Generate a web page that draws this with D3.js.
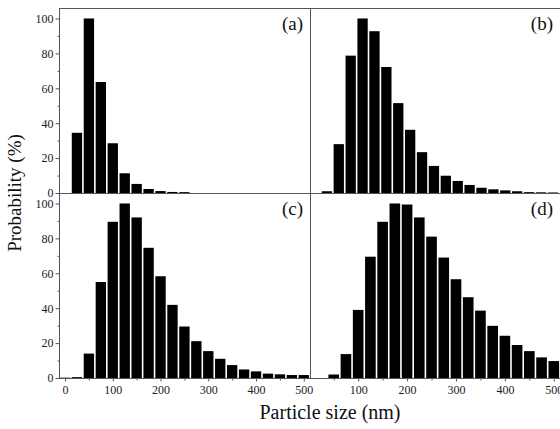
<!DOCTYPE html>
<html>
<head>
<meta charset="utf-8">
<script src="https://cdn.jsdelivr.net/npm/d3@7"></script>
<style>
  html, body { margin: 0; padding: 0; background: #fff; }
  svg { display: block; }
</style>
</head>
<body>
<div id="chart"></div>
<script>
// bins of the particle size histograms (nm, bin centres)
let bins = d3.range(0, 501, 25);

// probability (%) per bin
let valuesA = [0, 34.5, 100, 63.6, 28.5, 11.3, 5.2, 2.3, 1.1, 0.6, 0.5, 0, 0, 0, 0, 0, 0, 0, 0, 0, 0];
let valuesB = [0, 1, 28, 78.7, 100, 92.7, 72.2, 51.5, 36.2, 23.4, 15.5, 9.9, 6.9, 4.6, 3.0, 2.1, 1.5, 1.0, 0.5, 0.4, 0.3];
let valuesC = [0.2, 0.5, 14, 55, 89.5, 100, 92, 74.6, 58.3, 41.9, 29.5, 21.1, 15.4, 11, 7.4, 4.9, 3.8, 2.5, 2.1, 1.7, 1.7];
let valuesD = [0, 0, 2, 13.7, 39, 69.5, 89.5, 100, 99.4, 92, 81, 69, 56.6, 46.3, 38.6, 29.9, 24.2, 18.9, 15.4, 11.8, 9.7];

let yTicks = [0, 20, 40, 60, 80, 100];
let yMinor = [10, 30, 50, 70, 90];
let xTicks = [0, 100, 200, 300, 400, 500];
let xMinor = [50, 150, 250, 350, 450];

let binWidth = 25;
let serif = "'Liberation Serif', 'Times New Roman', Tinos, 'DejaVu Serif', serif";

let svg = d3.select('#chart').append('svg')
    .attr('width', 560)
    .attr('height', 429)
    .style('font-family', serif);

//Configuración de cada panel
let panels = [
    {id: 'a', values: valuesA, left: 59, right: 310, top: 8, bottom: 193, dom: [-12.6, 513], yAxis: true, xAxis: false},
    {id: 'b', values: valuesB, left: 310, right: 560, top: 8, bottom: 193, dom: [-10.5, 515], yAxis: false, xAxis: false},
    {id: 'c', values: valuesC, left: 59, right: 310, top: 193, bottom: 378, dom: [-12.6, 513], yAxis: true, xAxis: true, zeroLabel: true},
    {id: 'd', values: valuesD, left: 310, right: 560, top: 193, bottom: 378, dom: [1.5, 512.7], yAxis: false, xAxis: true, zeroLabel: false}
];

panels.forEach(drawPanel);

function styleTicks(ax) {
    ax.selectAll('.domain').remove();
    ax.selectAll('.tick line').attr('stroke', '#555');
    ax.selectAll('.tick text')
        .style('font-family', serif)
        .style('font-size', '12px')
        .attr('fill', '#1a1a28');
}

function drawPanel(p) {
    let x = d3.scaleLinear().domain(p.dom).range([p.left, p.right]);
    let y = d3.scaleLinear().domain([0, 106]).range([p.bottom, p.top]);

    let g = svg.append('g').attr('class', 'panel panel-' + p.id);

    g.append('clipPath').attr('id', 'clip-' + p.id)
        .append('rect')
        .attr('x', p.left).attr('y', p.top)
        .attr('width', p.right - p.left).attr('height', p.bottom - p.top);

    let data = bins.map(function(b, i) { return {bin: b, v: p.values[i]}; })
        .filter(function(d) { return d.v > 0; });

    //Barras
    g.append('g')
        .attr('clip-path', 'url(#clip-' + p.id + ')')
        .selectAll('rect')
        .data(data)
        .enter()
        .append('rect')
        .attr('x', function(d) { return x(d.bin - binWidth / 2) + 0.8; })
        .attr('width', function(d) { return x(d.bin + binWidth / 2) - x(d.bin - binWidth / 2) - 1.6; })
        .attr('y', function(d) { return y(d.v); })
        .attr('height', function(d) { return Math.max(0.8, y(0) - y(d.v)); })
        .attr('fill', '#000');

    //Marco
    g.append('rect')
        .attr('x', p.left + 0.5).attr('y', p.top + 0.5)
        .attr('width', p.right - p.left).attr('height', p.bottom - p.top)
        .attr('fill', 'none')
        .attr('stroke', '#555')
        .attr('stroke-width', 1);

    if (p.yAxis) {
        let ax = g.append('g').attr('transform', 'translate(' + (p.left + 0.5) + ',0)');
        ax.call(d3.axisLeft(y).tickValues(yTicks).tickSize(4).tickSizeOuter(0).tickPadding(2));
        ax.append('g').call(d3.axisLeft(y).tickValues(yMinor).tickSize(2).tickSizeOuter(0).tickFormat(''));
        styleTicks(ax);
    }

    if (p.xAxis) {
        let ticks = p.zeroLabel ? xTicks : xTicks.slice(1);
        let ax = g.append('g').attr('transform', 'translate(0,' + (p.bottom + 0.5) + ')');
        ax.call(d3.axisBottom(x).tickValues(ticks).tickSize(3).tickSizeOuter(0).tickPadding(4));
        ax.append('g').call(d3.axisBottom(x).tickValues(xMinor).tickSize(2).tickSizeOuter(0).tickFormat(''));
        styleTicks(ax);
    }

    g.append('text')
        .attr('x', p.right - 7)
        .attr('y', p.top + 22)
        .attr('text-anchor', 'end')
        .attr('fill', '#111')
        .style('font-family', serif)
        .style('font-size', '19px')
        .text('(' + p.id + ')');
}

//Títulos de ejes
svg.append('text')
    .attr('transform', 'translate(17,193) rotate(-90)')
    .attr('text-anchor', 'middle')
    .attr('dominant-baseline', 'middle')
    .attr('fill', '#111')
    .style('font-family', serif)
    .style('font-size', '19px')
    .text('Probability (%)');

svg.append('text')
    .attr('x', 330)
    .attr('y', 419)
    .attr('text-anchor', 'middle')
    .attr('fill', '#111')
    .style('font-family', serif)
    .style('font-size', '20px')
    .text('Particle size (nm)');
</script>
</body>
</html>
